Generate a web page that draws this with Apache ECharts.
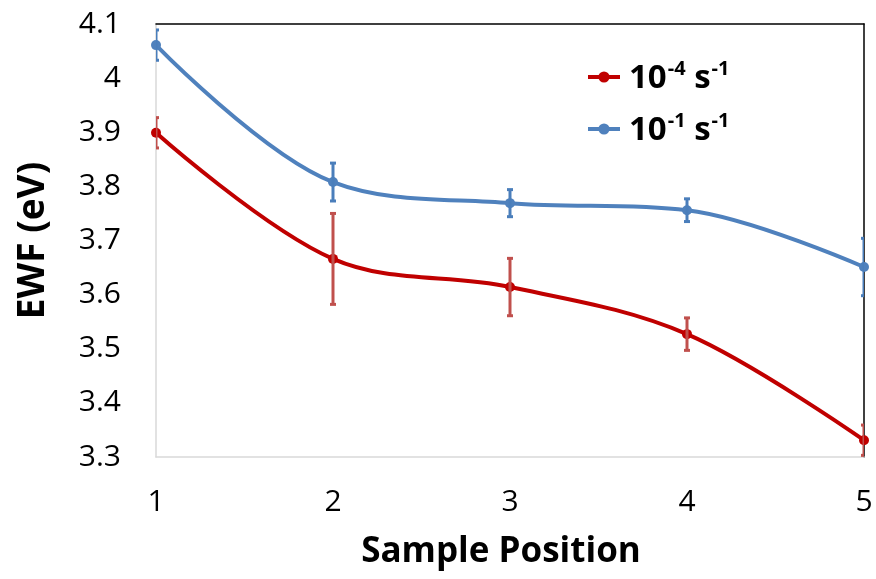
<!DOCTYPE html>
<html><head><meta charset="utf-8">
<script src="https://cdn.jsdelivr.net/npm/echarts@6/dist/echarts.min.js"></script>
<style>html,body{margin:0;padding:0;background:#fff}#c{width:876px;height:579px}</style>
</head><body><div id="c"></div>
<script>
const positions = [1, 2, 3, 4, 5];
const seriesNames = ['10^-4 s^-1', '10^-1 s^-1'];
const slowVals = [3.899, 3.666, 3.614, 3.527, 3.331];
const slowErr  = [0.028, 0.084, 0.053, 0.030, 0.028];
const fastVals = [4.061, 3.808, 3.769, 3.756, 3.651];
const fastErr  = [0.028, 0.035, 0.025, 0.021, 0.053];
const yTicks = [3.3, 3.4, 3.5, 3.6, 3.7, 3.8, 3.9, 4.0, 4.1];

const FONT = '"Open Sans", sans-serif';
const redLine = '#C00000', redErr = '#C0504D';
const blueLine = '#4F81BD', blueErr = '#4A7EBB';

function errData(vals, errs) {
  return positions.map((p, i) => [p, vals[i] - errs[i], vals[i] + errs[i]]);
}
function errRender(color) {
  return function (params, api) {
    const x = api.value(0);
    const lo = api.coord([x, api.value(1)]);
    const hi = api.coord([x, api.value(2)]);
    const cap = 3;
    const style = { stroke: color, lineWidth: 3 };
    return {
      type: 'group',
      children: [
        { type: 'line', shape: { x1: lo[0], y1: lo[1], x2: hi[0], y2: hi[1] }, style },
        { type: 'line', shape: { x1: hi[0] - cap, y1: hi[1], x2: hi[0] + cap, y2: hi[1] }, style },
        { type: 'line', shape: { x1: lo[0] - cap, y1: lo[1], x2: lo[0] + cap, y2: lo[1] }, style }
      ]
    };
  };
}

const chart = echarts.init(document.getElementById('c'), null, { renderer: 'canvas' });
chart.setOption({
  animation: false,
  backgroundColor: '#fff',
  grid: { left: 156, right: 12, top: 24, bottom: 122, containLabel: false },
  legend: {
    orient: 'vertical', left: 581, top: 54, itemGap: 16,
    itemWidth: 32, itemHeight: 14,
    data: seriesNames,
    lineStyle: { width: 4 },
    formatter: function (n) {
      const m = n.match(/^10\^(-?\d+) s\^(-?\d+)$/);
      return '{b|10}{s|' + m[1] + '}{b| s}{s|' + m[2] + '}';
    },
    textStyle: {
      padding: [0, 0, 0, 4],
      rich: {
        b: { fontFamily: FONT, fontSize: 33, fontWeight: 'bold', color: '#000', lineHeight: 36, verticalAlign: 'bottom' },
        s: { fontFamily: FONT, fontSize: 20, fontWeight: 'bold', color: '#000', lineHeight: 36, verticalAlign: 'top', padding: [0, 0, 0, 1] }
      }
    }
  },
  xAxis: [{
    type: 'value', min: 1, max: 5, interval: 1,
    name: 'Sample Position', nameLocation: 'middle', nameGap: 78,
    nameTextStyle: { fontFamily: FONT, fontSize: 35, fontWeight: 'bold', color: '#000', padding: [0, 18, 0, 0] },
    axisLine: { show: true, lineStyle: { color: '#D9D9D9', width: 1.5 } },
    axisTick: { show: false },
    splitLine: { show: false },
    axisLabel: { fontFamily: FONT, fontSize: 30, color: '#000', margin: 30 }
  }, {
    type: 'value', min: 1, max: 5, position: 'top',
    axisLine: { show: true, lineStyle: { color: '#000', width: 1.5 } },
    axisTick: { show: false }, axisLabel: { show: false }, splitLine: { show: false }
  }],
  yAxis: [{
    type: 'value', min: 3.3, max: 4.1, interval: 0.1,
    name: 'EWF (eV)', nameLocation: 'middle', nameGap: 104,
    nameTextStyle: { fontFamily: FONT, fontSize: 37, fontWeight: 'bold', color: '#000' },
    axisLine: { show: true, lineStyle: { color: '#D9D9D9', width: 1.5 } },
    axisTick: { show: false },
    splitLine: { show: false },
    axisLabel: {
      fontFamily: FONT, fontSize: 30, color: '#000', margin: 35,
      formatter: function (v) { return String(parseFloat(v.toFixed(1))); }
    }
  }, {
    type: 'value', min: 3.3, max: 4.1, position: 'right',
    axisLine: { show: true, lineStyle: { color: '#000', width: 1.5 } },
    axisTick: { show: false }, axisLabel: { show: false }, splitLine: { show: false }
  }],
  series: [
    {
      name: seriesNames[0], type: 'line', smooth: 0.35,
      data: positions.map((p, i) => [p, slowVals[i]]),
      symbol: 'circle', symbolSize: 10,
      lineStyle: { color: redLine, width: 4 },
      itemStyle: { color: redLine },
      z: 3
    },
    {
      name: seriesNames[1], type: 'line', smooth: 0.35,
      data: positions.map((p, i) => [p, fastVals[i]]),
      symbol: 'circle', symbolSize: 10,
      lineStyle: { color: blueLine, width: 4 },
      itemStyle: { color: blueLine },
      z: 3
    },
    {
      type: 'custom', renderItem: errRender(redErr), clip: true,
      data: errData(slowVals, slowErr), encode: { x: 0, y: [1, 2] }, z: 4
    },
    {
      type: 'custom', renderItem: errRender(blueErr), clip: true,
      data: errData(fastVals, fastErr), encode: { x: 0, y: [1, 2] }, z: 4
    }
  ]
});
</script></body></html>
